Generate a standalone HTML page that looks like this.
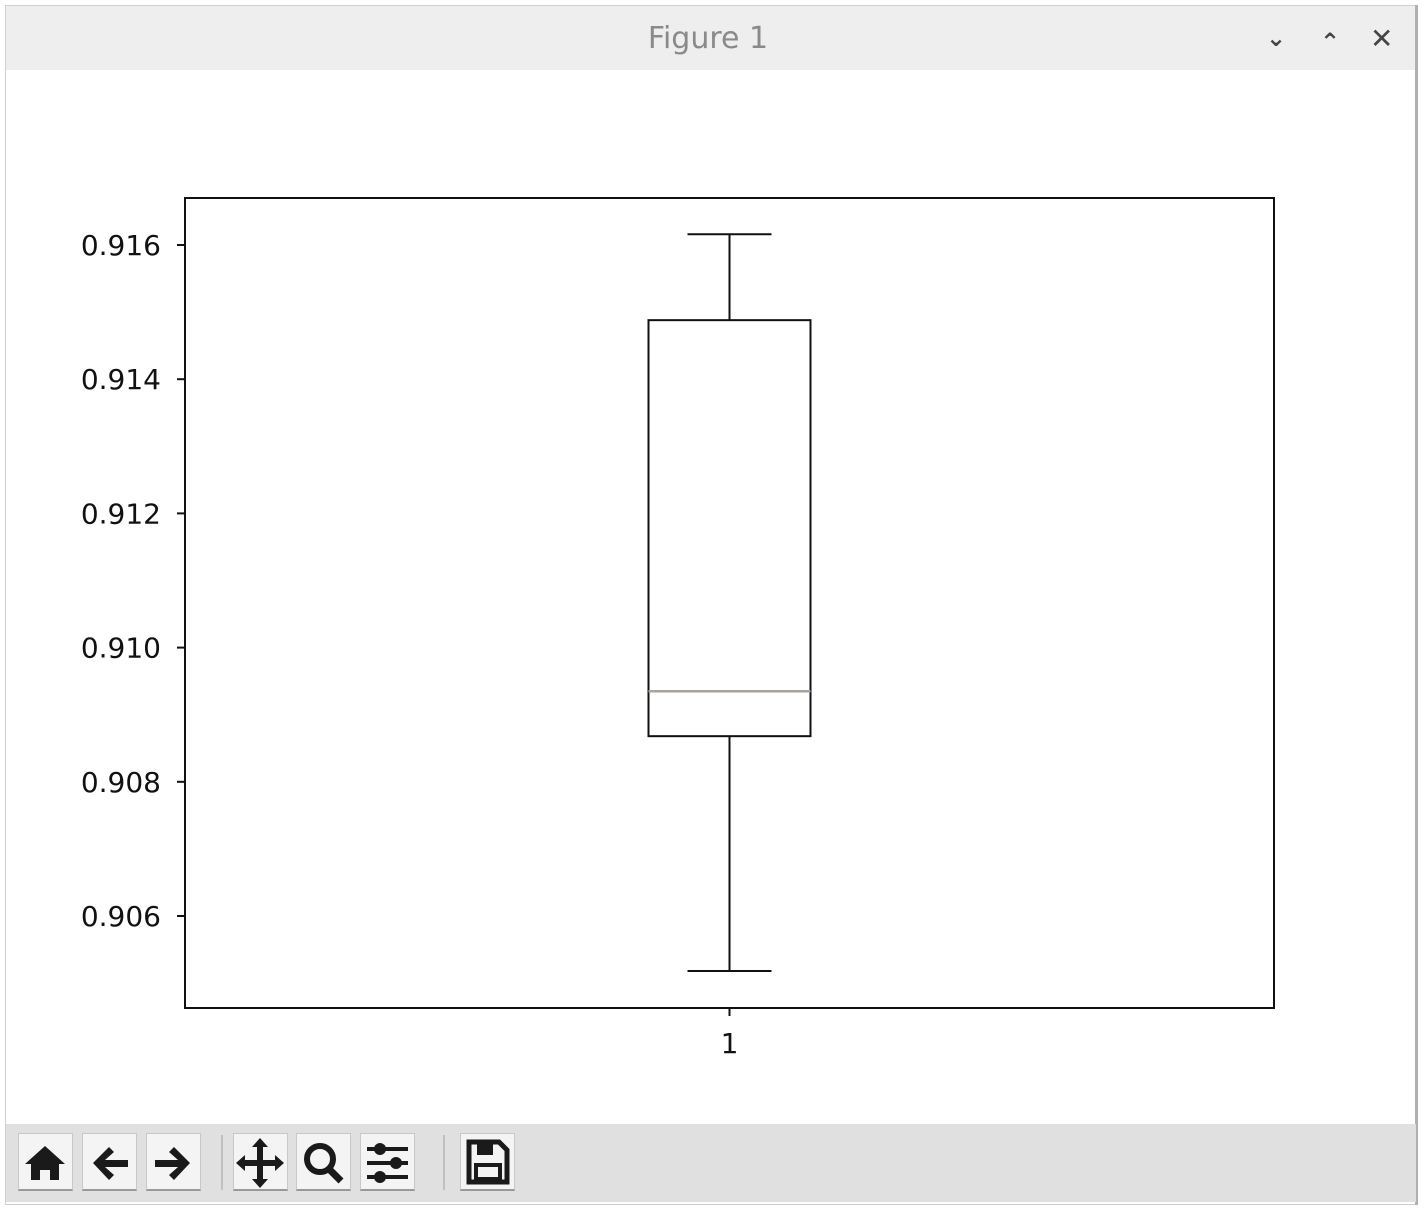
<!DOCTYPE html>
<html><head><meta charset="utf-8"><style>
body{margin:0;width:1425px;height:1212px;background:#fff;position:relative;overflow:hidden;font-family:"DejaVu Sans","Liberation Sans",sans-serif}
.abs{position:absolute}
.btn{position:absolute;top:1133px;width:55px;height:58px;background:#f4f4f4;border:1px solid #c8c8c8;border-bottom:2px solid #999;box-sizing:border-box}
.sep{position:absolute;top:1135px;width:2px;height:55px;background:#c0c0c0}
</style></head><body>
<div class="abs" style="left:5px;top:5px;width:1412px;height:1200px;border:1px solid #cfcfcf;box-sizing:border-box"></div>
<div class="abs" style="left:6px;top:6px;width:1410px;height:64px;background:#eeeeee"></div>
<div class="abs" style="left:0;top:21px;width:1416px;text-align:center;font-size:30px;color:#8a8a8a">Figure 1</div>
<div class="abs" style="left:1266px;top:24px;font-size:24px;color:#444;font-weight:bold">&#8964;</div>
<div class="abs" style="left:1320px;top:28px;font-size:24px;color:#444;font-weight:bold">&#8963;</div>
<div class="abs" style="left:1370px;top:22px;font-size:28px;color:#444;font-weight:bold">&#10005;</div>
<div class="abs" style="left:1415px;top:5px;width:3px;height:1200px;background:#b0b0b0"></div>

<svg class="abs" style="left:0;top:0" width="1425" height="1120">
<g id="chart" font-family="DejaVu Sans, Liberation Sans, sans-serif" font-size="28" fill="#111"></g>
</svg>

<div class="abs" style="left:6px;top:1124px;width:1410px;height:78px;background:#e0e0e0"></div>
<div class="btn" style="left:18px"><svg width="53" height="54"><path d="M6 30 L26 12 L46 30 L40 30 L40 46 L31 46 L31 36 L21 36 L21 46 L12 46 L12 30 Z" fill="#1a1a1a"/></svg></div>
<div class="btn" style="left:82px"><svg width="53" height="54"><path d="M10 29 L26 13 L31 18 L22 26 L45 26 L45 33 L22 33 L31 41 L26 46 Z" fill="#1a1a1a"/></svg></div>
<div class="btn" style="left:146px"><svg width="53" height="54"><path d="M43 29 L27 13 L22 18 L31 26 L8 26 L8 33 L31 33 L22 41 L27 46 Z" fill="#1a1a1a"/></svg></div>
<div class="sep" style="left:221px"></div>
<div class="btn" style="left:233px"><svg width="53" height="54"><path d="M26 4 L34 13 L29 13 L29 26 L41 26 L41 21 L50 29 L41 37 L41 32 L29 32 L29 45 L34 45 L26 54 L18 45 L23 45 L23 32 L11 32 L11 37 L2 29 L11 21 L11 26 L23 26 L23 13 L18 13 Z" fill="#1a1a1a"/></svg></div>
<div class="btn" style="left:296px"><svg width="53" height="54"><circle cx="23" cy="25" r="13" fill="none" stroke="#1a1a1a" stroke-width="6"/><line x1="32" y1="35" x2="44" y2="47" stroke="#1a1a1a" stroke-width="7"/></svg></div>
<div class="btn" style="left:360px"><svg width="53" height="54"><g stroke="#1a1a1a" stroke-width="4"><line x1="6" y1="15" x2="47" y2="15"/><line x1="6" y1="29" x2="47" y2="29"/><line x1="6" y1="43" x2="47" y2="43"/></g><g fill="#1a1a1a"><circle cx="19" cy="15" r="6"/><circle cx="35" cy="29" r="6"/><circle cx="19" cy="43" r="6"/></g></svg></div>
<div class="sep" style="left:443px"></div>
<div class="btn" style="left:460px"><svg width="53" height="54"><path d="M8 8 L38 8 L46 16 L46 48 L8 48 Z" fill="none" stroke="#1a1a1a" stroke-width="5"/><rect x="16" y="8" width="16" height="13" fill="#1a1a1a"/><rect x="15" y="31" width="24" height="14" fill="none" stroke="#1a1a1a" stroke-width="4"/></svg></div>

<script>
const categories = ["1"];
const whiskerLow = [0.90518];
const q1 = [0.90868];
const median = [0.90935];
const q3 = [0.91488];
const whiskerHigh = [0.91616];
const yTicks = [0.906, 0.908, 0.910, 0.912, 0.914, 0.916];
const yTickLabels = ["0.906","0.908","0.910","0.912","0.914","0.916"];

const L=185,R=1274,T=198,B=1008;
function y(v){return 245+(0.916-v)/0.002*134.2;}
function x(i){return L+(R-L)*(i+0.5)/categories.length;}
const g=document.getElementById('chart');
const NS="http://www.w3.org/2000/svg";
function mk(tag,attrs,name){const e=document.createElementNS(NS,tag);for(const k in attrs)e.setAttribute(k,attrs[k]);


g.appendChild(e);return e;}
mk('rect',{x:L,y:T,width:R-L,height:B-T,fill:'none',stroke:'#111','stroke-width':2},'plot-area');
yTicks.forEach((v,i)=>{
  mk('line',{x1:L-8,x2:L,y1:y(v),y2:y(v),stroke:'#111','stroke-width':2},'y-tick');
  const t=mk('text',{x:L-24,y:y(v)+10,'text-anchor':'end'},'y-tick-label');t.textContent=yTickLabels[i];
});
categories.forEach((c,i)=>{
  const cx=x(i),hw=81,cw=42;
  mk('line',{x1:cx,x2:cx,y1:B,y2:B+8,stroke:'#111','stroke-width':2},'x-tick');
  const t=mk('text',{x:cx,y:B+45,'text-anchor':'middle'},'x-tick-label');t.textContent=c;
  mk('line',{x1:cx,x2:cx,y1:y(whiskerHigh[i]),y2:y(q3[i]),stroke:'#111','stroke-width':2},'upper-whisker');
  mk('line',{x1:cx,x2:cx,y1:y(q1[i]),y2:y(whiskerLow[i]),stroke:'#111','stroke-width':2},'lower-whisker');
  mk('line',{x1:cx-cw,x2:cx+cw,y1:y(whiskerHigh[i]),y2:y(whiskerHigh[i]),stroke:'#111','stroke-width':2},'upper-cap');
  mk('line',{x1:cx-cw,x2:cx+cw,y1:y(whiskerLow[i]),y2:y(whiskerLow[i]),stroke:'#111','stroke-width':2},'lower-cap');
  mk('rect',{x:cx-hw,y:y(q3[i]),width:2*hw,height:y(q1[i])-y(q3[i]),fill:'none',stroke:'#111','stroke-width':2},'box');
  mk('line',{x1:cx-hw,x2:cx+hw,y1:y(median[i]),y2:y(median[i]),stroke:'#aaa49c','stroke-width':2.5},'median-line');
});
</script>
</body></html>
